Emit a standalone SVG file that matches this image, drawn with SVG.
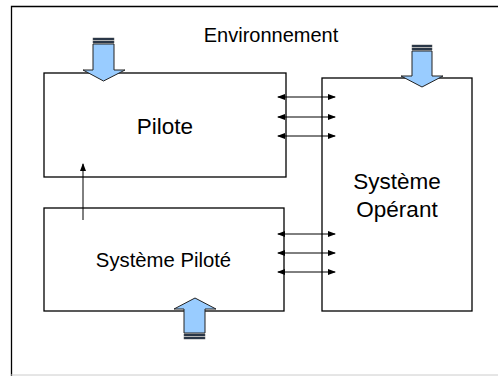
<svg xmlns="http://www.w3.org/2000/svg" width="498" height="376" viewBox="0 0 498 376">
<style>
.box{fill:#fff;stroke:#000;stroke-width:1.3}
.lbl{font-family:"Liberation Sans",Arial,sans-serif;fill:#000;text-anchor:middle}
.conn{stroke:#000;stroke-width:1;fill:none}
.barrow{fill:#99ccff;stroke:#222;stroke-width:1}
.stripe{fill:#1c2e44;stroke:#555;stroke-width:0.5}
</style>
<defs>
<marker id="ah" viewBox="0 0 8 6" refX="7" refY="3" markerWidth="8" markerHeight="6" markerUnits="userSpaceOnUse" orient="auto-start-reverse">
<path d="M0,0 L8,3 L0,6 Z" fill="#000"/>
</marker>
</defs>
<rect width="498" height="376" fill="#fff"/>
<path d="M11.5,376 V6.5 H498" fill="none" stroke="#000" stroke-width="1.3"/>
<line x1="11" y1="375" x2="498" y2="375" stroke="#ccc" stroke-width="1"/>
<text class="lbl" x="271" y="42" font-size="20">Environnement</text>
<g id="pilote">
<rect class="box" x="44" y="73" width="242" height="104"/>
<text class="lbl" x="165" y="134" font-size="22.5">Pilote</text>
</g>
<g id="systeme-pilote">
<rect class="box" x="44" y="208" width="240" height="103"/>
<text class="lbl" x="163.5" y="267" font-size="20.3">Système Piloté</text>
</g>
<g id="systeme-operant">
<rect class="box" x="322" y="78" width="150" height="233"/>
<text class="lbl" x="397" y="189" font-size="22.5">Système</text>
<text class="lbl" x="397" y="217" font-size="22.5">Opérant</text>
</g>
<g id="env-arrow-pilote">
<rect class="stripe" x="93" y="38" width="21" height="2"/>
<rect class="stripe" x="93" y="41" width="21" height="2"/>
<path class="barrow" d="M93,44 H114 V70 H125 L103.5,81 L83,70 H93 Z"/>
</g>
<g id="env-arrow-operant">
<rect class="stripe" x="412" y="45" width="20" height="2"/>
<rect class="stripe" x="412" y="48" width="20" height="2"/>
<path class="barrow" d="M412,51 H432 V76 H443 L422,87 L401,76 H412 Z"/>
</g>
<g id="env-arrow-pilote-bas">
<rect class="stripe" x="184" y="334" width="21" height="2"/>
<rect class="stripe" x="184" y="337" width="21" height="2"/>
<path class="barrow" d="M184,333 H205 V309 H216 L195,298 L174,309 H184 Z"/>
</g>
<g id="connectors">
<line class="conn" x1="278" y1="97" x2="335" y2="97" marker-start="url(#ah)" marker-end="url(#ah)"/>
<line class="conn" x1="278" y1="117" x2="335" y2="117" marker-start="url(#ah)" marker-end="url(#ah)"/>
<line class="conn" x1="278" y1="136" x2="335" y2="136" marker-start="url(#ah)" marker-end="url(#ah)"/>
<line class="conn" x1="278" y1="234" x2="335" y2="234" marker-start="url(#ah)" marker-end="url(#ah)"/>
<line class="conn" x1="278" y1="253" x2="335" y2="253" marker-start="url(#ah)" marker-end="url(#ah)"/>
<line class="conn" x1="278" y1="272" x2="335" y2="272" marker-start="url(#ah)" marker-end="url(#ah)"/>
<line class="conn" x1="83" y1="220" x2="83" y2="164" marker-end="url(#ah)"/>
</g>
</svg>
